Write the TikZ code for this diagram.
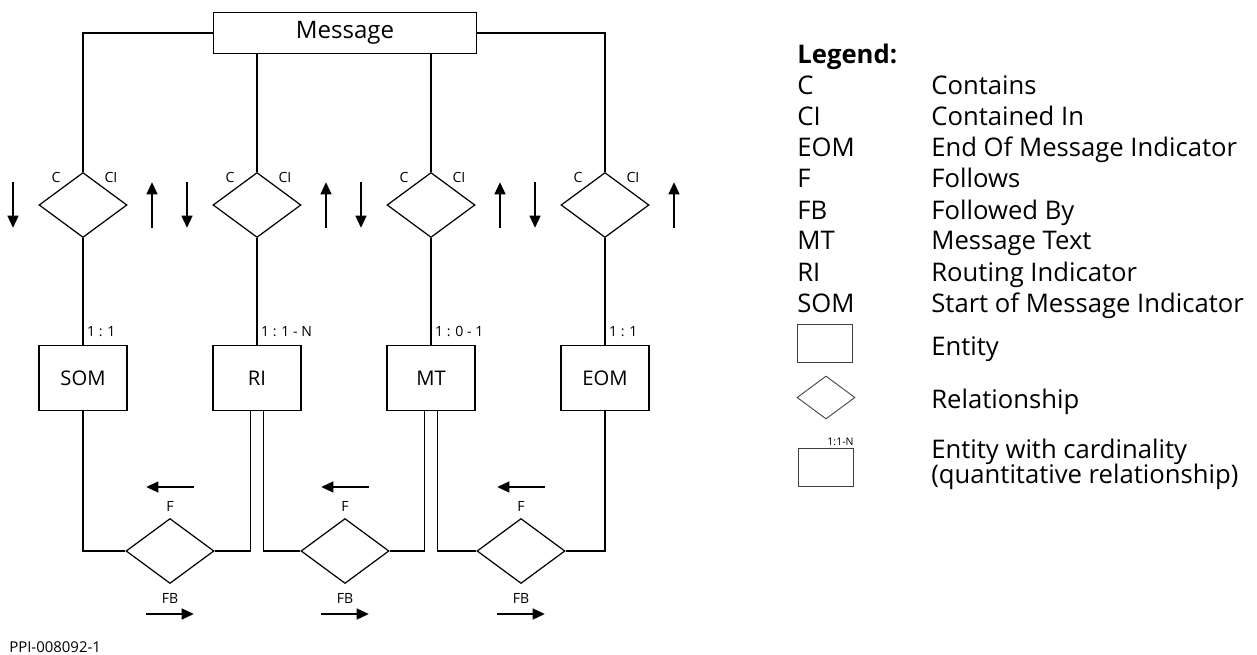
\documentclass[tikz,border=0pt]{standalone}
\usepackage{fontspec}
\setmainfont{Open Sans}
\usetikzlibrary{calc,shapes.geometric,arrows.meta}

\tikzset{
  link/.style={line width=0.7pt},
  entity/.style={draw, link, minimum width=1.76cm, minimum height=1.3cm, inner sep=0pt, font=\fontsize{11.5}{13}\selectfont},
  relation/.style={draw, diamond, link, minimum width=1.76cm, minimum height=1.3cm, inner sep=0pt},
  tag/.style={inner sep=0pt, font=\fontsize{8}{9}\selectfont},
  dirarrow/.style={line width=1.5pt, -{Triangle[length=7pt,width=6pt]}},
  legtext/.style={anchor=base west, inner sep=0pt, font=\fontsize{14.6}{17}\selectfont},
  legshape/.style={draw, line width=0.5pt, black!75, inner sep=0pt},
}

\begin{document}
\begin{tikzpicture}[x=0.02cm,y=-0.02cm]
  \useasboundingbox (0,0) rectangle (1257,655);

  % message and the four parts
  \node[draw, link, minimum width=5.26cm, minimum height=0.82cm, font=\fontsize{13.7}{16}\selectfont] (msg) at (345,33) {Message};

  \node[relation] (cSOM) at (83,205) {};
  \node[relation] (cRI) at (257,205) {};
  \node[relation] (cMT) at (431,205) {};
  \node[relation] (cEOM) at (605,205) {};

  \node[entity] (som) at (83,378) {SOM};
  \node[entity] (ri) at (257,378) {RI};
  \node[entity] (mt) at (431,378) {MT};
  \node[entity] (eom) at (605,378) {EOM};

  \node[relation] (fSomRi) at (170,551) {};
  \node[relation] (fRiMt) at (345,551) {};
  \node[relation] (fMtEom) at (521,551) {};

  \draw[link] (msg.west) -| (cSOM.north);
  \draw[link] (msg.east) -| (cEOM.north);
  \draw[link] (msg.south -| cRI.north) -- (cRI.north);
  \draw[link] (msg.south -| cMT.north) -- (cMT.north);

  \draw[link] (cSOM.south) -- node[tag, pos=1, anchor=base west, xshift=2pt, yshift=5pt]{1 : 1} (som.north);
  \draw[link] (cRI.south) -- node[tag, pos=1, anchor=base west, xshift=2pt, yshift=5pt]{1 : 1 - N} (ri.north);
  \draw[link] (cMT.south) -- node[tag, pos=1, anchor=base west, xshift=2pt, yshift=5pt]{1 : 0 - 1} (mt.north);
  \draw[link] (cEOM.south) -- node[tag, pos=1, anchor=base west, xshift=2pt, yshift=5pt]{1 : 1} (eom.north);

  \draw[link] (som.south) |- (fSomRi.west);
  \draw[link] (fSomRi.east) -| ($(ri.south)+(-6.5,0)$);
  \draw[link] ($(ri.south)+(6.5,0)$) |- (fRiMt.west);
  \draw[link] (fRiMt.east) -| ($(mt.south)+(-6.5,0)$);
  \draw[link] ($(mt.south)+(6.5,0)$) |- (fMtEom.west);
  \draw[link] (fMtEom.east) -| (eom.south);

  % contains / contained in
  \foreach \r in {cSOM,cRI,cMT,cEOM}{
    \node[tag] at ($(\r)+(-27,-28)$) {C};
    \node[tag] at ($(\r)+(28,-28)$) {CI};
    \draw[dirarrow] ($(\r)+(-70,-23)$) -- ($(\r)+(-70,23)$);
    \draw[dirarrow] ($(\r)+(69,23)$) -- ($(\r)+(69,-23)$);
  }

  % follows / followed by
  \foreach \f in {fSomRi,fRiMt,fMtEom}{
    \draw[dirarrow] ($(\f)+(24,-64)$) -- ($(\f)+(-24,-64)$);
    \node[tag] at ($(\f)+(0,-45)$) {F};
    \node[tag] at ($(\f)+(0,47)$) {FB};
    \draw[dirarrow] ($(\f)+(-24,63)$) -- ($(\f)+(24,63)$);
  }

  \node[anchor=base west, inner sep=0pt, font=\fontsize{8.5}{10}\selectfont] (ppi) at (9,652) {PPI-008092-1};

  % legend
  \node[legtext, font=\fontsize{14.6}{17}\selectfont\bfseries] (legTitle) at (797,64) {Legend:};
  \foreach \abbr/\desc [count=\i] in {C/Contains, CI/Contained In, EOM/End Of Message Indicator,
      F/Follows, FB/Followed By, MT/Message Text, RI/Routing Indicator, SOM/Start of Message Indicator}{
    \node[legtext] (abbr\i) at (797,64+31*\i) {\abbr};
    \node[legtext] (desc\i) at (931,64+31*\i) {\desc};
  }

  \node[legshape, minimum width=1.1cm, minimum height=0.76cm] (legEntity) at (824.5,343) {};
  \node[legtext] (legEntityText) at (931,355) {Entity};
  \node[legshape, diamond, minimum width=1.16cm, minimum height=0.86cm] (legRel) at (826,397.5) {};
  \node[legtext] (legRelText) at (931,408) {Relationship};
  \node[legshape, minimum width=1.1cm, minimum height=0.76cm] (legCard) at (825.5,467) {};
  \node[anchor=base east, inner sep=0pt, font=\fontsize{6}{7}\selectfont] (legCardTag) at (854,445) {1:1-N};
  \node[legtext] (legCardText) at (931,458) {Entity with cardinality};
  \node[legtext] (legCardText2) at (931,483) {(quantitative relationship)};
\end{tikzpicture}
\end{document}
